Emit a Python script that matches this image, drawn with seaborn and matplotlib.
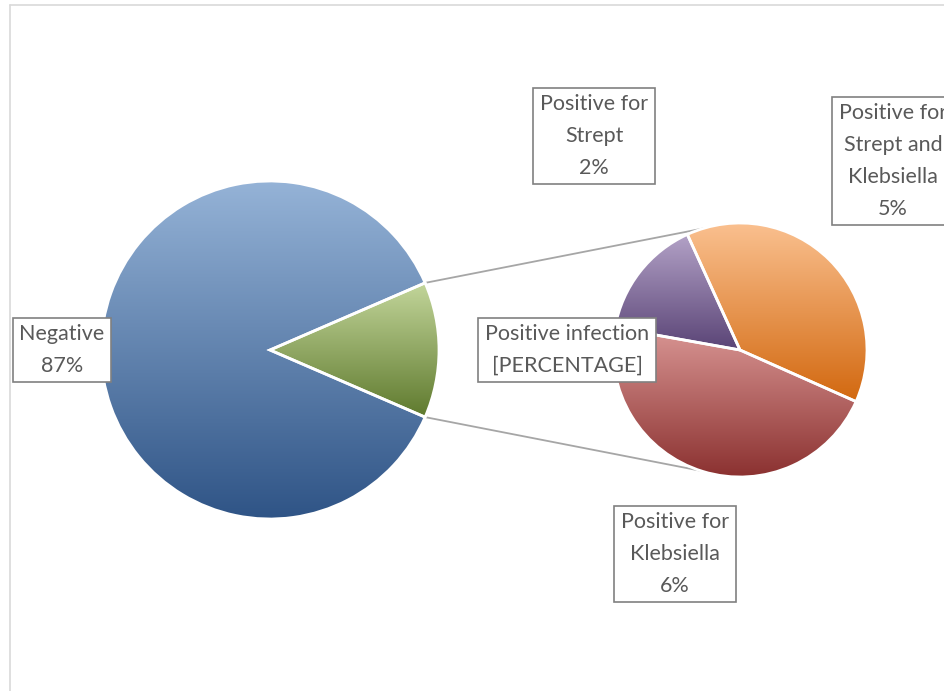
import numpy as np
import matplotlib
matplotlib.use("Agg")
import matplotlib.pyplot as plt
import matplotlib.colors as mcolors
import seaborn as sns

# データ
main_labels = ["Positive infection\n[PERCENTAGE]", "Negative\n87%"]
main_values = [13, 87]
sub_labels = ["Positive for\nStrept and\nKlebsiella\n5%", "Positive for\nKlebsiella\n6%", "Positive for\nStrept\n2%"]
sub_values = [5, 6, 2]

# グラデーション色 (上, 下)
main_colors = [("#c3d69b", "#5f7a2e"), ("#95b3d7", "#2f5486")]
sub_colors = [("#fac08f", "#d2680f"), ("#d99694", "#8b3130"), ("#b3a2c7", "#5a4476")]

sns.set_theme(style="white")
plt.rcParams["font.family"] = ["Lato", "DejaVu Sans"]

W, H = 945, 691
fig = plt.figure(figsize=(W / 100, H / 100), dpi=100)
ax = fig.add_axes([0, 0, 1, 1])
ax.set_xlim(0, W)
ax.set_ylim(0, H)
ax.set_aspect("equal")
ax.axis("off")


def py(y):
    # ピクセル座標(上から)をデータ座標へ
    return H - y


def gradient_fill(wedges, colors):
    for w, (top, bottom) in zip(wedges, colors):
        w.set_facecolor("none")
        w.set_zorder(3)
        bb = w.get_path().get_extents(w.get_patch_transform())
        cmap = mcolors.LinearSegmentedColormap.from_list("g", [bottom, top])
        grad = np.linspace(0, 1, 256).reshape(-1, 1)
        im = ax.imshow(grad, cmap=cmap, extent=[bb.x0, bb.x1, bb.y0, bb.y1],
                       origin="lower", aspect="auto", zorder=2)
        im.set_clip_path(w)


# 主円グラフ
main_center = (270, py(350))
main_r = 169
start = -main_values[0] / sum(main_values) * 180
wedges1, _ = ax.pie(main_values, center=main_center, radius=main_r, startangle=start,
                    wedgeprops=dict(edgecolor="white", linewidth=2))
gradient_fill(wedges1, main_colors)

# 補助円グラフ
sub_center = (740, py(350))
sub_r = 127
wedges2, _ = ax.pie(sub_values, center=sub_center, radius=sub_r, startangle=114.5,
                    counterclock=False, wedgeprops=dict(edgecolor="white", linewidth=2))
gradient_fill(wedges2, sub_colors)
ax.set_xlim(0, W)
ax.set_ylim(0, H)

# 接続線
g = wedges1[0]
for ang_main, ang_sub in [(g.theta2, 107), (g.theta1, -108)]:
    x0 = main_center[0] + main_r * np.cos(np.radians(ang_main))
    y0 = main_center[1] + main_r * np.sin(np.radians(ang_main))
    x1 = sub_center[0] + sub_r * np.cos(np.radians(ang_sub))
    y1 = sub_center[1] + sub_r * np.sin(np.radians(ang_sub))
    ax.plot([x0, x1], [y0, y1], color="#a6a6a6", linewidth=1.3, zorder=1)

# ラベル
label_pos = {
    main_labels[1]: (62, 350),
    main_labels[0]: (567, 350),
    sub_labels[0]: (893, 161),
    sub_labels[1]: (675, 554),
    sub_labels[2]: (594, 136),
}
for text, (x, y) in label_pos.items():
    ax.text(x, py(y), text, ha="center", va="center", fontsize=15.5, color="#595959",
            linespacing=1.75, zorder=5,
            bbox=dict(boxstyle="square,pad=0.3", fc="white", ec="#808080", lw=1.2))

# 枠線
ax.plot([10, 10], [py(5), 0], color="#d9d9d9", linewidth=1.2)
ax.plot([10, W], [py(5), py(5)], color="#d9d9d9", linewidth=1.2)

fig.savefig("out.png", dpi=100)
